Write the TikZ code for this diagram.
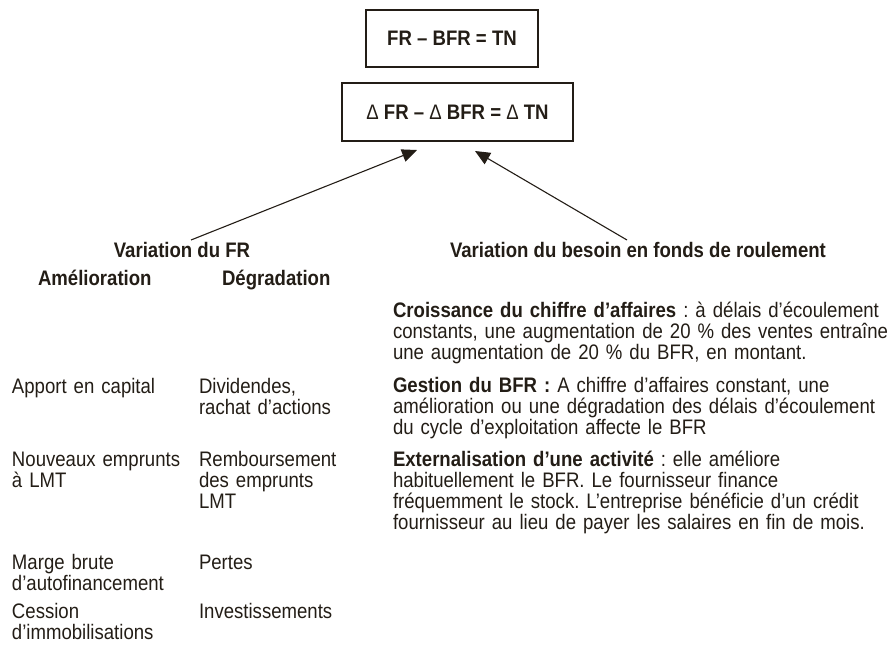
\documentclass[tikz,border=0pt]{standalone}
\usepackage{fontspec}
\setmainfont{Liberation Sans}[FakeStretch=0.885]
\usetikzlibrary{arrows.meta}
\definecolor{ink}{RGB}{35,29,22}
\begin{document}
\frenchspacing
\begin{tikzpicture}[x=1pt,y=-1pt,
  every node/.style={inner sep=0pt, outer sep=0pt, text=ink},
  txt/.style={anchor=base west, font=\fontsize{21}{21}\selectfont\frenchspacing},
  para/.style={txt, text width=#1, align=left},
  hdr/.style={font=\fontsize{21}{21}\selectfont\bfseries},
  eqbox/.style={draw=ink, line width=1.1pt, font=\fontsize{21}{21}\selectfont\bfseries, anchor=center},
  arr/.style={draw=ink, line width=1.1pt, -{Triangle[length=15pt,width=13pt]}}]
\useasboundingbox (0,0) rectangle (892,645);

% equation boxes
\node[eqbox, minimum width=172pt, minimum height=57pt] (eq1) at (452,38.5) {FR – BFR = TN};
\node[eqbox, minimum width=231pt, minimum height=58pt] (eq2) at (457.5,112) {{\mdseries Δ} FR – {\mdseries Δ} BFR = {\mdseries Δ} TN};

% headers
\node[hdr, anchor=base] (vfr) at (182,257) {Variation du FR};
\node[hdr, anchor=base west] (vbfr) at (450,257) {Variation du besoin en fonds de roulement};
\node[hdr, anchor=base west] (amel) at (38,285) {Amélioration};
\node[hdr, anchor=base west] (degr) at (222,285) {Dégradation};

% arrows
\coordinate (t1) at (191,240);
\coordinate (h1) at (417,150);
\coordinate (t2) at (627,240);
\coordinate (h2) at (475,151);
\draw[arr] (t1) -- (h1);
\draw[arr] (t2) -- (h2);

% left column : amelioration
\node[para=180pt] (a1) at (12,393) {Apport en capital};
\node[para=180pt] (a2) at (12,466) {Nouveaux emprunts\\à LMT};
\node[para=180pt] (a3) at (12,569) {Marge brute\\d’autofinancement};
\node[para=180pt] (a4) at (12,618) {Cession\\d’immobilisations};

% left column : degradation
\node[para=180pt] (d1) at (199,393) {Dividendes,\\rachat d’actions};
\node[para=180pt] (d2) at (199,466) {Remboursement\\des emprunts\\LMT};
\node[para=180pt] (d3) at (199,569) {Pertes};
\node[para=180pt] (d4) at (199,618) {Investissements};

% right column
\node[para=650pt] (r1) at (393,317) {\textbf{Croissance du chiffre d’affaires} : à délais d’écoulement\\constants, une augmentation de 20 \% des ventes entraîne\\une augmentation de 20 \% du BFR, en montant.};
\node[para=650pt] (r2) at (393,392) {\textbf{Gestion du BFR :} A chiffre d’affaires constant, une\\amélioration ou une dégradation des délais d’écoulement\\du cycle d’exploitation affecte le BFR};
\node[para=650pt] (r3) at (393,466) {\textbf{Externalisation d’une activité} : elle améliore\\habituellement le BFR. Le fournisseur finance\\fréquemment le stock. L’entreprise bénéficie d’un crédit\\fournisseur au lieu de payer les salaires en fin de mois.};
\end{tikzpicture}
\end{document}
